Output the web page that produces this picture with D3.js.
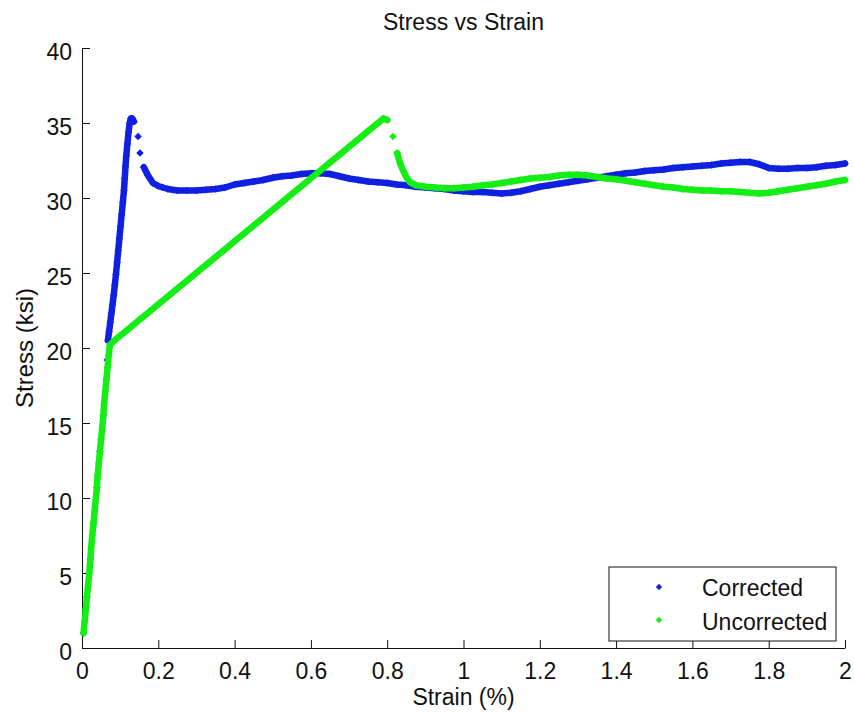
<!DOCTYPE html>
<meta charset="utf-8">
<script src="https://d3js.org/d3.v7.min.js"></script>
<style>
  body { margin: 0; background: #fff; }
  text { font-family: "Liberation Sans", Arial, sans-serif; fill: #111; }
</style>
<div id="chart"></div>
<script>

// tick labels
const xTicks = [0, 0.2, 0.4, 0.6, 0.8, 1, 1.2, 1.4, 1.6, 1.8, 2];
const yTicks = [0, 5, 10, 15, 20, 25, 30, 35, 40];
const seriesNames = ["Corrected", "Uncorrected"];

// Corrected (blue)
const correctedStrain = [
  0.004, 0.013, 0.022, 0.030, 0.039, 0.047, 0.056, 0.064, 0.066,
  0.068, 0.071, 0.074, 0.077, 0.080, 0.083, 0.086, 0.089, 0.092, 0.095,
  0.098, 0.101, 0.104, 0.107, 0.110, 0.112, 0.114, 0.116, 0.119, 0.122,
  0.125, 0.128, 0.132, 0.136,
  0.147, 0.152, 0.162, 0.173, 0.186, 0.2, 0.212, 0.225, 0.25, 0.275,
  0.3, 0.325, 0.35, 0.375, 0.4, 0.425, 0.45, 0.475, 0.5, 0.525,
  0.55, 0.575, 0.6, 0.625, 0.65, 0.675, 0.7, 0.725, 0.75, 0.775,
  0.8, 0.825, 0.85, 0.875, 0.9, 0.925, 0.95, 0.975, 1.0, 1.025,
  1.05, 1.075, 1.1, 1.125, 1.15, 1.175, 1.2, 1.225, 1.25, 1.275,
  1.3, 1.325, 1.35, 1.375, 1.4, 1.425, 1.45, 1.475, 1.5, 1.525,
  1.55, 1.575, 1.6, 1.625, 1.65, 1.675, 1.7, 1.725, 1.75, 1.775,
  1.8, 1.825, 1.85, 1.875, 1.9, 1.925, 1.95, 1.975, 2.0
];
const correctedStress = [
  1.0, 3.4, 5.9, 8.3, 10.7, 13.1, 15.5, 17.9, 19.2,
  20.5, 21.1, 21.7, 22.3, 22.9, 23.5, 24.2, 24.9, 25.7, 26.5,
  27.3, 28.1, 28.9, 29.7, 30.5, 31.3, 32.1, 32.8, 33.6, 34.4,
  35.0, 35.3, 35.3, 35.1,
  34.1, 33.0, 32.05, 31.5, 31.0, 30.8, 30.7, 30.6, 30.5, 30.5,
  30.5, 30.55, 30.6, 30.7, 30.9, 31.0, 31.1, 31.2, 31.35, 31.45,
  31.5, 31.6, 31.65, 31.65, 31.6, 31.45, 31.3, 31.2, 31.1, 31.05,
  31.0, 30.9, 30.85, 30.75, 30.7, 30.65, 30.6, 30.5, 30.45, 30.4,
  30.4, 30.35, 30.3, 30.35, 30.45, 30.6, 30.75, 30.85, 30.95, 31.05,
  31.15, 31.25, 31.35, 31.45, 31.55, 31.65, 31.7, 31.8, 31.85, 31.9,
  32.0, 32.05, 32.1, 32.15, 32.2, 32.3, 32.35, 32.4, 32.4, 32.25,
  32.0, 31.95, 31.95, 32.0, 32.0, 32.05, 32.15, 32.2, 32.3
];

// Uncorrected (green)
const uncorrectedStrain = [
  0.004, 0.007, 0.010, 0.013, 0.016, 0.019, 0.022, 0.024, 0.027, 0.030,
  0.033, 0.036, 0.039, 0.041, 0.044, 0.047, 0.050, 0.053, 0.056, 0.058,
  0.061, 0.064, 0.067, 0.070, 0.073,
  0.085, 0.1, 0.125, 0.15, 0.175, 0.2, 0.225, 0.25, 0.275, 0.3,
  0.325, 0.35, 0.375, 0.4, 0.425, 0.45, 0.475, 0.5, 0.525, 0.55,
  0.575, 0.6, 0.625, 0.65, 0.675, 0.7, 0.725, 0.75, 0.775, 0.79,
  0.80,
  0.815, 0.826, 0.834, 0.842, 0.85, 0.86, 0.875, 0.9, 0.925, 0.95,
  0.975, 1.0, 1.025, 1.05, 1.075, 1.1, 1.125, 1.15, 1.175, 1.2,
  1.225, 1.25, 1.275, 1.3, 1.325, 1.35, 1.375, 1.4, 1.425, 1.45,
  1.475, 1.5, 1.525, 1.55, 1.575, 1.6, 1.625, 1.65, 1.675, 1.7,
  1.725, 1.75, 1.775, 1.8, 1.825, 1.85, 1.875, 1.9, 1.925, 1.95,
  1.975, 2.0
];
const uncorrectedStress = [
  1.0, 1.8, 2.6, 3.4, 4.2, 5.0, 5.9, 6.7, 7.5, 8.3,
  9.1, 9.9, 10.7, 11.5, 12.3, 13.1, 13.9, 14.7, 15.5, 16.3,
  17.1, 17.9, 18.7, 19.5, 20.2,
  20.5, 20.81, 21.34, 21.86, 22.39, 22.91, 23.44, 23.96, 24.49, 25.01,
  25.54, 26.06, 26.59, 27.11, 27.64, 28.16, 28.69, 29.21, 29.74, 30.26,
  30.79, 31.31, 31.84, 32.36, 32.89, 33.41, 33.94, 34.46, 34.99, 35.3,
  35.2,
  34.1, 33.0, 32.3, 31.8, 31.4, 31.05, 30.85, 30.75, 30.7, 30.65,
  30.65, 30.7, 30.75, 30.85, 30.9, 31.0, 31.1, 31.2, 31.3, 31.35,
  31.4, 31.5, 31.55, 31.55, 31.5, 31.4, 31.3, 31.25, 31.15, 31.05,
  30.95, 30.85, 30.75, 30.7, 30.6, 30.55, 30.5, 30.5, 30.45, 30.45,
  30.4, 30.35, 30.3, 30.35, 30.45, 30.55, 30.65, 30.75, 30.85, 30.95,
  31.1, 31.2
];

const colors = ["#1020e0", "#14ee14"];

const margin = {top: 48, right: 9, bottom: 64, left: 82},
  width = 854 - margin.left - margin.right,
  height = 712 - margin.top - margin.bottom;

const svg = d3.select("#chart")
  .append("svg")
    .attr("width", 854)
    .attr("height", 712);

const g = svg.append("g")
    .attr("transform", `translate(${margin.left},${margin.top})`);

const x = d3.scaleLinear().domain([0, 2]).range([0, width]);
const y = d3.scaleLinear().domain([0, 40]).range([height, 0]);

// axes, ticks pointing inward like matlab
const xAxis = g.append("g")
    .attr("transform", `translate(0,${height})`)
    .call(d3.axisBottom(x).tickValues(xTicks).tickFormat(d3.format("~g"))
      .tickSize(-8).tickSizeOuter(0).tickPadding(15));
const yAxis = g.append("g")
    .call(d3.axisLeft(y).tickValues(yTicks).tickFormat(d3.format("~g"))
      .tickSize(-8).tickSizeOuter(0).tickPadding(10));

[xAxis, yAxis].forEach(a => {
  a.selectAll("text").style("font-size", "23px").attr("fill", "#111")
    .style("font-family", '"Liberation Sans", Arial, sans-serif');
  a.selectAll("line, path").attr("stroke", "#111");
});
yAxis.selectAll("text").attr("dy", "0.48em");

// join samples that sit close together, the rest stay as loose markers
function runs(xs, ys) {
  const pts = xs.map((v, i) => [x(v), y(ys[i])]);
  const out = [];
  let cur = [pts[0]];
  for (let i = 1; i < pts.length; i++) {
    const d = Math.hypot(pts[i][0] - pts[i-1][0], pts[i][1] - pts[i-1][1]);
    if (d < 14) cur.push(pts[i]);
    else { out.push(cur); cur = [pts[i]]; }
  }
  out.push(cur);
  return out.filter(r => r.length > 1);
}

const diamond = d3.symbol(d3.symbolSquare, 28);

function drawSeries(xs, ys, color) {
  const s = g.append("g");
  s.selectAll("path.seg")
    .data(runs(xs, ys))
    .join("path")
      .attr("class", "seg")
      .attr("d", d3.line())
      .attr("fill", "none")
      .attr("stroke", color)
      .attr("stroke-width", 6.5)
      .attr("stroke-linejoin", "round")
      .attr("stroke-linecap", "round");
  s.selectAll("path.mk")
    .data(xs.map((v, i) => [v, ys[i]]))
    .join("path")
      .attr("class", "mk")
      .attr("d", diamond)
      .attr("transform", d => `translate(${x(d[0])},${y(d[1])}) rotate(45)`)
      .attr("fill", color);
}

drawSeries(correctedStrain, correctedStress, colors[0]);
drawSeries(uncorrectedStrain, uncorrectedStress, colors[1]);

// title and axis labels
svg.append("text")
    .attr("x", margin.left + width / 2)
    .attr("y", 30)
    .attr("text-anchor", "middle")
    .style("font-size", "23px")
    .text("Stress vs Strain");

svg.append("text")
    .attr("x", margin.left + width / 2)
    .attr("y", 705)
    .attr("text-anchor", "middle")
    .style("font-size", "23px")
    .text("Strain (%)");

svg.append("text")
    .attr("transform", `translate(33,${margin.top + height / 2}) rotate(-90)`)
    .attr("text-anchor", "middle")
    .style("font-size", "24px")
    .text("Stress (ksi)");

// legend
const legend = svg.append("g").attr("transform", "translate(609,567)");
legend.append("rect")
    .attr("width", 227)
    .attr("height", 74)
    .attr("fill", "#fff")
    .attr("stroke", "#111");
seriesNames.forEach((name, i) => {
  legend.append("path")
    .attr("d", d3.symbol(d3.symbolSquare, 20))
    .attr("transform", `translate(50,${20 + i * 33}) rotate(45)`)
    .attr("fill", colors[i]);
  legend.append("text")
    .attr("x", 93)
    .attr("y", 29 + i * 34)
    .style("font-size", "23px")
    .text(name);
});

</script>
